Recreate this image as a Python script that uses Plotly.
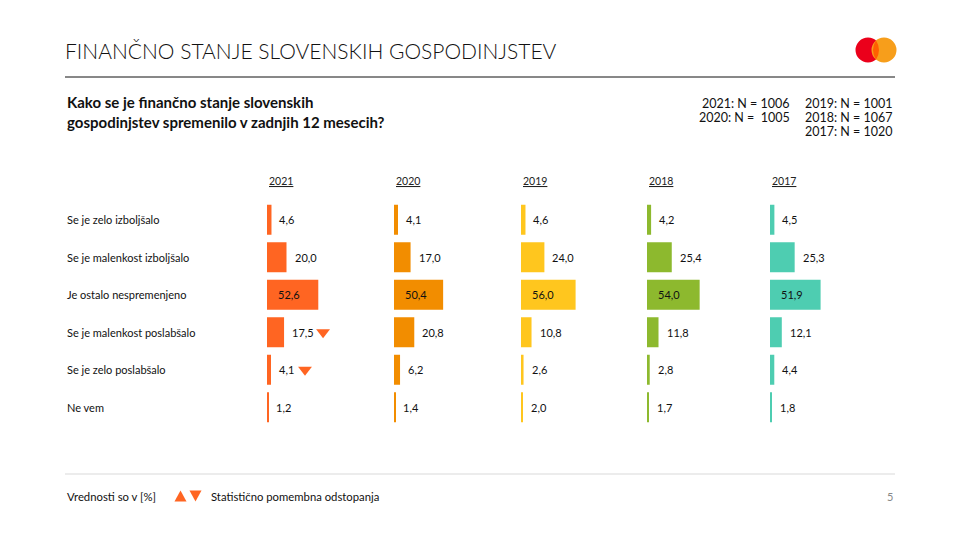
import plotly.graph_objects as go

OFF = 8  # browser body margin
W, H = 960 - OFF, 540 - OFF
FONT = "Lato"

categories = ["Se je zelo izboljšalo", "Se je malenkost izboljšalo", "Je ostalo nespremenjeno",
              "Se je malenkost poslabšalo", "Se je zelo poslabšalo", "Ne vem"]
years = ["2021", "2020", "2019", "2018", "2017"]
v2021 = [4.6, 20.0, 52.6, 17.5, 4.1, 1.2]
v2020 = [4.1, 17.0, 50.4, 20.8, 6.2, 1.4]
v2019 = [4.6, 24.0, 56.0, 10.8, 2.6, 2.0]
v2018 = [4.2, 25.4, 54.0, 11.8, 2.8, 1.7]
v2017 = [4.5, 25.3, 51.9, 12.1, 4.4, 1.8]
series = [v2021, v2020, v2019, v2018, v2017]
colors = ["#FF6522", "#F28D00", "#FFC61E", "#8DB92E", "#4ECDB1"]
# significance markers (2021 only): row index -> direction
sig_2021 = {3: "down", 4: "down"}
n_left = ["2021: N = 1006", "2020: N =  1005"]
n_right = ["2019: N = 1001", "2018: N = 1067", "2017: N = 1020"]

def px(x):
    return (x - OFF) / W

def py(y):
    return 1 - (y - OFF) / H

PPU = 0.975  # pixels per unit
panel_start = [267, 394, 521, 647, 770]
panel_w = 118

fig = go.Figure()
layout_axes = {}
annotations = []
shapes = []

def fmt(v):
    return f"{v:.1f}".replace(".", ",")

for i, (yr, vals, col) in enumerate(zip(years, series, colors)):
    xname = "x" if i == 0 else f"x{i+1}"
    axkey = "xaxis" if i == 0 else f"xaxis{i+1}"
    fig.add_trace(go.Bar(
        x=vals, y=categories, orientation="h", xaxis=xname, yaxis="y",
        marker=dict(color=col, line=dict(width=0)),
        width=0.8, showlegend=False, hoverinfo="x+y"))
    layout_axes[axkey] = dict(domain=[px(panel_start[i]), px(panel_start[i] + panel_w)],
                              range=[0, panel_w / PPU], anchor="y", visible=False,
                              fixedrange=True)
    for r, (c, v) in enumerate(zip(categories, vals)):
        inside = v > 40
        annotations.append(dict(
            x=0 if inside else v, y=c, xref=xname, yref="y", text=fmt(v),
            showarrow=False, xanchor="left", xshift=9 if inside else 6,
            font=dict(size=11, color="#111111", family=FONT)))
    # year header
    annotations.append(dict(x=px(panel_start[i]), y=py(181), xref="paper", yref="paper",
                            text=f"<u>{yr}</u>", showarrow=False, xanchor="left",
                            yanchor="middle", font=dict(size=10.5, color="#222222", family=FONT)))
    if yr == "2021":
        mx, my, sym = [], [], []
        for r, d in sig_2021.items():
            t = fmt(vals[r])
            off = (7 + 5 * len(t) + 12) / PPU
            mx.append(vals[r] + off)
            my.append(categories[r])
            sym.append("triangle-down" if d == "down" else "triangle-up")
        fig.add_trace(go.Scatter(x=mx, y=my, xaxis=xname, yaxis="y", mode="markers",
                                 marker=dict(symbol=sym, size=12, color="#FF6522"),
                                 showlegend=False, hoverinfo="skip"))

# category labels
for c in categories:
    annotations.append(dict(x=px(65), y=c, xref="paper", yref="y", text=c, showarrow=False,
                            xanchor="left", font=dict(size=11, color="#111111", family=FONT)))

# header
annotations.append(dict(x=px(63), y=py(50), xref="paper", yref="paper",
                        text="FINANČNO STANJE SLOVENSKIH GOSPODINJSTEV", showarrow=False,
                        xanchor="left", yanchor="middle",
                        font=dict(size=21, color="#111111", family=FONT, weight=300)))
annotations.append(dict(x=px(65), y=py(112), xref="paper", yref="paper",
                        text="<b>Kako se je finančno stanje slovenskih<br>gospodinjstev spremenilo v zadnjih 12 mesecih?</b>",
                        showarrow=False, xanchor="left", yanchor="middle", align="left",
                        font=dict(size=15, color="#111111", family=FONT)))
for k, t in enumerate(n_left):
    annotations.append(dict(x=px(792), y=py(103 + 14.5 * k), xref="paper", yref="paper", text=t,
                            showarrow=False, xanchor="right", yanchor="middle",
                            font=dict(size=12.5, color="#111111", family=FONT)))
for k, t in enumerate(n_right):
    annotations.append(dict(x=px(895), y=py(103 + 14.5 * k), xref="paper", yref="paper", text=t,
                            showarrow=False, xanchor="right", yanchor="middle",
                            font=dict(size=12.5, color="#111111", family=FONT)))

# footer
annotations.append(dict(x=px(65), y=py(496), xref="paper", yref="paper", text="Vrednosti so v [%]",
                        showarrow=False, xanchor="left", yanchor="middle",
                        font=dict(size=11.3, color="#111111", family=FONT)))
annotations.append(dict(x=px(209), y=py(496), xref="paper", yref="paper",
                        text="Statistično pomembna odstopanja", showarrow=False, xanchor="left",
                        yanchor="middle", font=dict(size=11.3, color="#111111", family=FONT)))
annotations.append(dict(x=px(895), y=py(496), xref="paper", yref="paper", text="5",
                        showarrow=False, xanchor="right", yanchor="middle",
                        font=dict(size=11, color="#888888", family=FONT)))

def tri(cx, cy, w, h, up):
    if up:
        pts = [(cx - w / 2, cy + h / 2), (cx + w / 2, cy + h / 2), (cx, cy - h / 2)]
    else:
        pts = [(cx - w / 2, cy - h / 2), (cx + w / 2, cy - h / 2), (cx, cy + h / 2)]
    path = "M " + " L ".join(f"{px(a):.5f},{py(b):.5f}" for a, b in pts) + " Z"
    return dict(type="path", xref="paper", yref="paper", path=path,
                fillcolor="#FF6522", line=dict(width=0))

shapes.append(tri(180.5, 496, 12, 11, True))
shapes.append(tri(195.5, 496, 12, 11, False))

# lines
shapes.append(dict(type="line", xref="paper", yref="paper", x0=px(65), x1=px(895),
                   y0=py(77), y1=py(77), line=dict(color="#111111", width=1)))
shapes.append(dict(type="line", xref="paper", yref="paper", x0=px(65), x1=px(895),
                   y0=py(474), y1=py(474), line=dict(color="#D9D9D9", width=1)))

# logo
def circ(cx, cy, r, color, opacity=1):
    return dict(type="circle", xref="paper", yref="paper", x0=px(cx - r), x1=px(cx + r),
                y0=py(cy + r), y1=py(cy - r), fillcolor=color, line=dict(width=0),
                opacity=opacity)

shapes.append(circ(868, 50, 12.5, "#EB001B"))
shapes.append(circ(884, 50, 12.5, "#F79E1B"))
shapes.append(dict(type="path", xref="paper", yref="paper",
                   path=f"M {px(876):.5f},{py(40.3):.5f} Q {px(870):.5f},{py(50):.5f} {px(876):.5f},{py(59.7):.5f} Q {px(882):.5f},{py(50):.5f} {px(876):.5f},{py(40.3):.5f} Z",
                   fillcolor="#FF5F00", line=dict(width=0)))

fig.update_layout(
    width=W, height=H, margin=dict(l=0, r=0, t=0, b=0),
    paper_bgcolor="white", plot_bgcolor="white",
    yaxis=dict(domain=[py(426), py(201)], categoryorder="array", categoryarray=categories,
               autorange="reversed", visible=False, fixedrange=True),
    bargap=0.2, annotations=annotations, shapes=shapes,
    font=dict(family=FONT), showlegend=False,
    **layout_axes)

fig.write_html("out.html")
